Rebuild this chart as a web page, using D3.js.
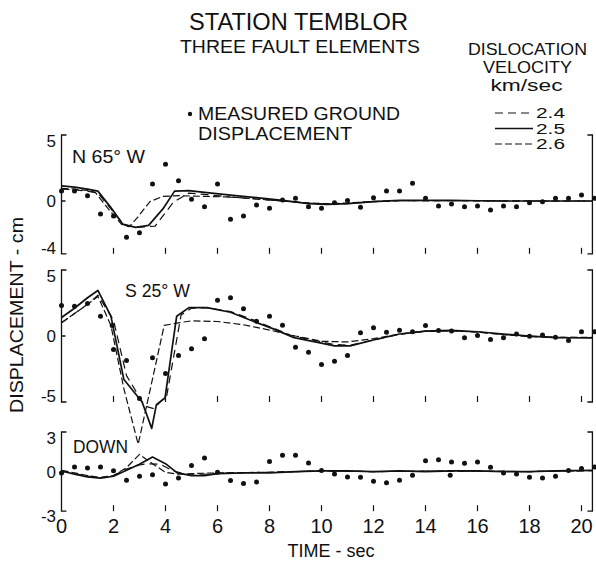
<!DOCTYPE html>
<html>
<head>
<meta charset="utf-8">
<script src="https://cdn.jsdelivr.net/npm/d3@7/dist/d3.min.js"></script>
<style>
  html, body { margin: 0; padding: 0; background: #fff; }
  svg text { font-family: "Liberation Sans", Arial, sans-serif; fill: #111; }
</style>
</head>
<body>
<svg id="chart" width="596" height="561"></svg>
<script>
// Sampling of the measured record (seconds)
const sampleStart = 0;
const sampleStep = 0.5;

// Measured ground displacement (cm), one value per sample
const measuredN65W = [0.76, 0.76, 0.4, -0.98, -1.14, -2.75, -2.4, 1.29, 2.78, 1.54, 0.13, -0.43, 1.29, -1.39, -1.14, -0.3, -0.55, 0.08, 0.2, -0.43, -0.55, -0.13, 0.03, -0.48, 0.25, 0.76, 0.76, 1.34, 0.2, -0.38, -0.23, -0.43, -0.38, -0.68, -0.38, -0.43, -0.13, -0.05, 0.2, 0.2, 0.45, 0.2];
const measuredS25W = [2.31, 2.26, 2.46, 1.5, -1.02, -1.86, -4.73, -1.65, -2.84, -1.48, -0.97, -0.21, 2.71, 2.89, 2.06, 1.12, 1.5, 0.82, -0.85, -1.23, -2.16, -1.91, -1.48, 0.24, 0.62, 0.29, 0.44, 0.32, 0.8, 0.42, 0.37, -0.14, 0.04, -0.27, -0.14, 0.16, -0.02, 0.07, -0.09, -0.34, 0.32, 0.32];
const measuredDown = [-0.1, 0.35, 0.27, 0.35, 0.07, -0.65, -0.35, -0.23, -0.93, -0.48, 0.47, 1.03, -0.05, -0.68, -0.9, -0.78, 0.77, 1.23, 1.23, 0.65, 0.08, -0.18, -0.4, -0.43, -0.73, -0.85, -0.65, -0.28, 0.83, 0.9, 0.73, 0.63, 0.73, 0.33, -0.1, -0.18, -0.43, -0.48, -0.35, 0.08, 0.23, 0.35];
// Additional measured points off the regular sampling: [time, cm]
const extraS25W = [[1.95, 0.8]];
const extraDown = [[14.95, -0.28]];

// Synthetic displacement for each dislocation velocity: [time, cm]
const n65w_24 = [[0,0.9],[0.5,0.85],[1.0,0.75],[1.4,0.6],[1.9,-0.6],[2.4,-1.8],[2.9,-2.0],[3.6,-1.9],[4.3,-0.1],[4.9,0.6],[5.5,0.5],[6.5,0.3],[7.5,0.15],[8.5,0.0],[9.5,-0.15],[10.2,-0.25],[11,-0.2],[12,-0.05],[13,0.02],[14,0.03],[16,0.02],[18,0],[20.4,0]];
const n65w_25 = [[0,1.15],[0.5,1.05],[1.0,0.9],[1.4,0.75],[1.9,-0.5],[2.35,-1.75],[2.85,-2.0],[3.35,-1.85],[3.9,-0.6],[4.35,0.75],[4.9,0.78],[5.5,0.65],[6.5,0.45],[7.5,0.25],[8.5,0.05],[9.5,-0.2],[10.2,-0.25],[11,-0.2],[12,-0.05],[13,0.05],[14,0.05],[15,0.05],[16,0.02],[17,0],[18,0],[19,0],[20.4,0]];
const n65w_26 = [[0,0.95],[0.5,0.9],[1.0,0.8],[1.3,0.65],[1.8,-0.6],[2.3,-1.75],[2.6,-1.95],[2.9,-1.3],[3.4,-0.05],[3.9,0.35],[4.5,0.4],[5.5,0.35],[6.5,0.3],[7.5,0.15],[8.5,0],[9.5,-0.15],[10.2,-0.2],[11,-0.15],[12,-0.03],[13,0.02],[15,0.03],[17,0],[20.4,0]];

const s25w_24 = [[0,1.0],[0.5,1.7],[1,2.4],[1.4,3.1],[2.0,1.2],[2.5,-3.0],[3.2,-5.3],[3.55,-5.5],[4.05,-4.5],[4.6,1.6],[5.0,2.1],[5.6,2.15],[6.5,1.85],[7.4,1.2],[8.2,0.55],[8.9,0],[9.9,-0.4],[10.5,-0.65],[11.1,-0.7],[12,-0.3],[13,0.12],[14,0.35],[15,0.4],[16,0.3],[17,0.12],[18,-0.02],[19,-0.1],[20.4,-0.12]];
const s25w_25 = [[0,1.4],[0.5,2.1],[1.0,2.9],[1.4,3.45],[1.9,1.5],[2.4,-3.3],[3.1,-5.0],[3.47,-7.0],[3.65,-5.2],[3.98,-4.7],[4.43,1.5],[4.9,2.15],[5.6,2.15],[6.5,1.8],[7.4,1.1],[8.2,0.5],[8.9,-0.1],[9.9,-0.5],[10.5,-0.75],[11.1,-0.75],[12,-0.3],[13,0.15],[14,0.37],[15,0.42],[16,0.32],[17,0.15],[18,0],[19,-0.12],[20.4,-0.14]];
const s25w_26 = [[0,1.0],[0.5,1.7],[1.0,2.4],[1.4,3.0],[1.9,0.8],[2.4,-4.0],[2.95,-8.2],[3.95,0.8],[4.5,1.0],[5,1.15],[6,1.1],[7,0.85],[8,0.45],[9,0],[10,-0.4],[11,-0.45],[12,-0.2],[13,0.15],[14,0.38],[15,0.4],[16,0.3],[17,0.1],[18,-0.05],[19,-0.1],[20.4,-0.1]];

const down_24 = [[0,0.05],[0.5,-0.15],[1.0,-0.35],[1.5,-0.45],[2.0,-0.3],[2.5,0.2],[3.0,0.5],[3.3,0.6],[3.8,0.55],[4.3,0.05],[4.8,-0.2],[5.5,-0.2],[6.5,-0.1],[8,-0.05],[10,0.05],[12,0],[14,0.03],[16,0.03],[18,0],[20.4,0.08]];
const down_25 = [[0,0.05],[0.5,-0.2],[1.0,-0.4],[1.5,-0.5],[2.0,-0.35],[2.5,0.1],[3.0,0.55],[3.5,1.1],[4.0,0.6],[4.45,-0.1],[5.0,-0.3],[5.5,-0.3],[6,-0.15],[7,-0.1],[8,-0.1],[9,0],[10,0.05],[11,0.05],[12,0],[13,0.05],[14,0],[15,0.05],[16,0.05],[17,0],[18,0],[19,0.05],[20.4,0.1]];
const down_26 = [[0,0.1],[0.5,-0.1],[1.0,-0.3],[1.5,-0.45],[2.0,-0.3],[2.5,0.3],[3.0,1.3],[3.5,0.6],[4.0,-0.05],[4.5,-0.2],[5,-0.15],[6,-0.1],[8,-0.05],[10,0.05],[12,0],[14,0.03],[16,0.03],[18,0],[20.4,0.08]];

// Axis ticks and labels
const timeTicks = [0, 2, 4, 6, 8, 10, 12, 14, 16, 18, 20];
const velocities = ["2.4", "2.5", "2.6"];

const panels = [
  { name: "N 65° W", domain: [-4, 5], ticks: [5, 0, -4], measured: measuredN65W, extra: [], curves: [n65w_24, n65w_25, n65w_26] },
  { name: "S 25° W", domain: [-5, 5], ticks: [5, 0, -5], measured: measuredS25W, extra: extraS25W, curves: [s25w_24, s25w_25, s25w_26] },
  { name: "DOWN", domain: [-3, 3], ticks: [3, 0, -3], measured: measuredDown, extra: extraDown, curves: [down_24, down_25, down_26] }
];

// ---- drawing ----
const svg = d3.select("#chart");
const ink = "#111";

const x = d3.scaleLinear().domain([0, 20]).range([61.5, 581.5]);
const xEnd = 20.42;               // right-hand frame of every panel
const pxPerCm = 13.2;
const panelTops = [135, 270, 432];

const styles = {
  "2.4": { dash: "8,5", width: 1.2 },
  "2.5": { dash: null, width: 1.7 },
  "2.6": { dash: "7,3", width: 1.2 }
};

panels.forEach((p, k) => {
  const span = p.domain[1] - p.domain[0];
  const y = d3.scaleLinear().domain(p.domain).range([panelTops[k] + span * pxPerCm, panelTops[k]]);
  const g = svg.append("g");
  const yTop = y(p.domain[1]), yBot = y(p.domain[0]);
  const xl = x(0), xr = x(xEnd);
  const last = k === panels.length - 1;

  // left bracket with a tick at zero
  g.append("path")
    .attr("d", `M${xl + 5},${yTop}H${xl}V${yBot}H${xl + 5}M${xl},${y(0)}H${xl + 4}`)
    .attr("fill", "none").attr("stroke", ink).attr("stroke-width", 1.3);
  // right bracket
  g.append("path")
    .attr("d", `M${xr - 5},${yTop}H${xr}V${yBot}H${xr - 5}`)
    .attr("fill", "none").attr("stroke", ink).attr("stroke-width", 1.3);

  // short time ticks rising from the bottom edge
  g.selectAll("line.tick").data(timeTicks.filter(t => t > 0)).join("line")
    .attr("x1", d => x(d)).attr("x2", d => x(d))
    .attr("y1", yBot).attr("y2", yBot - 6)
    .attr("stroke", ink).attr("stroke-width", 1.2);

  // value labels on the left: top label hangs from its tick, bottom label sits on it
  g.selectAll("text.ylab").data(p.ticks).join("text")
    .attr("x", 56).attr("y", d => y(d))
    .attr("dy", (d, i) => i === 0 ? "0.68em" : i === 1 ? "0.36em" : (last ? "0.62em" : "0em"))
    .attr("text-anchor", "end")
    .attr("font-size", 17)
    .text(d => d < 0 ? "-" + Math.abs(d) : d);

  // component name
  const nameLayout = [
    { x: 72, y: 163, len: 73 },
    { x: 125, y: 297, len: 65 },
    { x: 73, y: 453, len: 55 }
  ][k];
  g.append("text")
    .attr("x", nameLayout.x).attr("y", nameLayout.y)
    .attr("font-size", 19)
    .attr("textLength", nameLayout.len).attr("lengthAdjust", "spacingAndGlyphs")
    .text(p.name);

  // synthetic curves
  const line = d3.line().x(d => x(d[0])).y(d => y(d[1]));
  p.curves.forEach((c, j) => {
    const st = styles[velocities[j]];
    g.append("path").datum(c)
      .attr("d", line)
      .attr("fill", "none")
      .attr("stroke", ink)
      .attr("stroke-width", st.width)
      .attr("stroke-dasharray", st.dash)
      .attr("stroke-linejoin", "round");
  });

  // measured points
  const pts = p.measured.map((v, i) => [sampleStart + i * sampleStep, v]).concat(p.extra);
  g.selectAll("circle").data(pts).join("circle")
    .attr("cx", d => x(d[0])).attr("cy", d => y(d[1]))
    .attr("r", 2.5).attr("fill", ink);

  // time labels under the last panel
  if (last) {
    svg.selectAll("text.xlab").data(timeTicks).join("text")
      .attr("class", "xlab")
      .attr("x", d => x(d)).attr("y", 533)
      .attr("text-anchor", "middle")
      .attr("font-size", 20)
      .text(d => d);
  }
});

// axis titles
svg.append("text")
  .attr("x", 331).attr("y", 557)
  .attr("text-anchor", "middle").attr("font-size", 18)
  .attr("textLength", 87).attr("lengthAdjust", "spacingAndGlyphs")
  .text("TIME - sec");
svg.append("text")
  .attr("transform", "translate(23,315) rotate(-90)")
  .attr("text-anchor", "middle").attr("font-size", 18)
  .attr("textLength", 196).attr("lengthAdjust", "spacingAndGlyphs")
  .text("DISPLACEMENT - cm");

// headings
const heading = (txt, cx, by, size, len) => svg.append("text")
  .attr("x", cx).attr("y", by).attr("text-anchor", "middle")
  .attr("font-size", size)
  .attr("textLength", len).attr("lengthAdjust", "spacingAndGlyphs")
  .text(txt);
heading("STATION TEMBLOR", 298.5, 30, 24, 219);
heading("THREE FAULT ELEMENTS", 300, 53, 19, 240);
heading("DISLOCATION", 527.5, 55, 17, 119);
heading("VELOCITY", 527.5, 73, 16, 89);
heading("km/sec", 526.5, 91, 16, 72);

// measured-point key
svg.append("circle").attr("cx", 190).attr("cy", 114).attr("r", 2.2).attr("fill", ink);
svg.append("text").attr("x", 198).attr("y", 120).attr("font-size", 19)
  .attr("textLength", 202).attr("lengthAdjust", "spacingAndGlyphs").text("MEASURED GROUND");
svg.append("text").attr("x", 198).attr("y", 140).attr("font-size", 19)
  .attr("textLength", 154).attr("lengthAdjust", "spacingAndGlyphs").text("DISPLACEMENT");

// velocity key
const keyRows = [118, 133.5, 149];
velocities.forEach((v, i) => {
  const st = styles[v];
  svg.append("line")
    .attr("x1", 495).attr("x2", 533)
    .attr("y1", keyRows[i] - 5).attr("y2", keyRows[i] - 5)
    .attr("stroke", ink).attr("stroke-width", st.width)
    .attr("stroke-dasharray", st.dash);
  svg.append("text").attr("x", 536).attr("y", keyRows[i]).attr("font-size", 14)
    .attr("textLength", 29).attr("lengthAdjust", "spacingAndGlyphs").text(v);
});
</script>
</body>
</html>
